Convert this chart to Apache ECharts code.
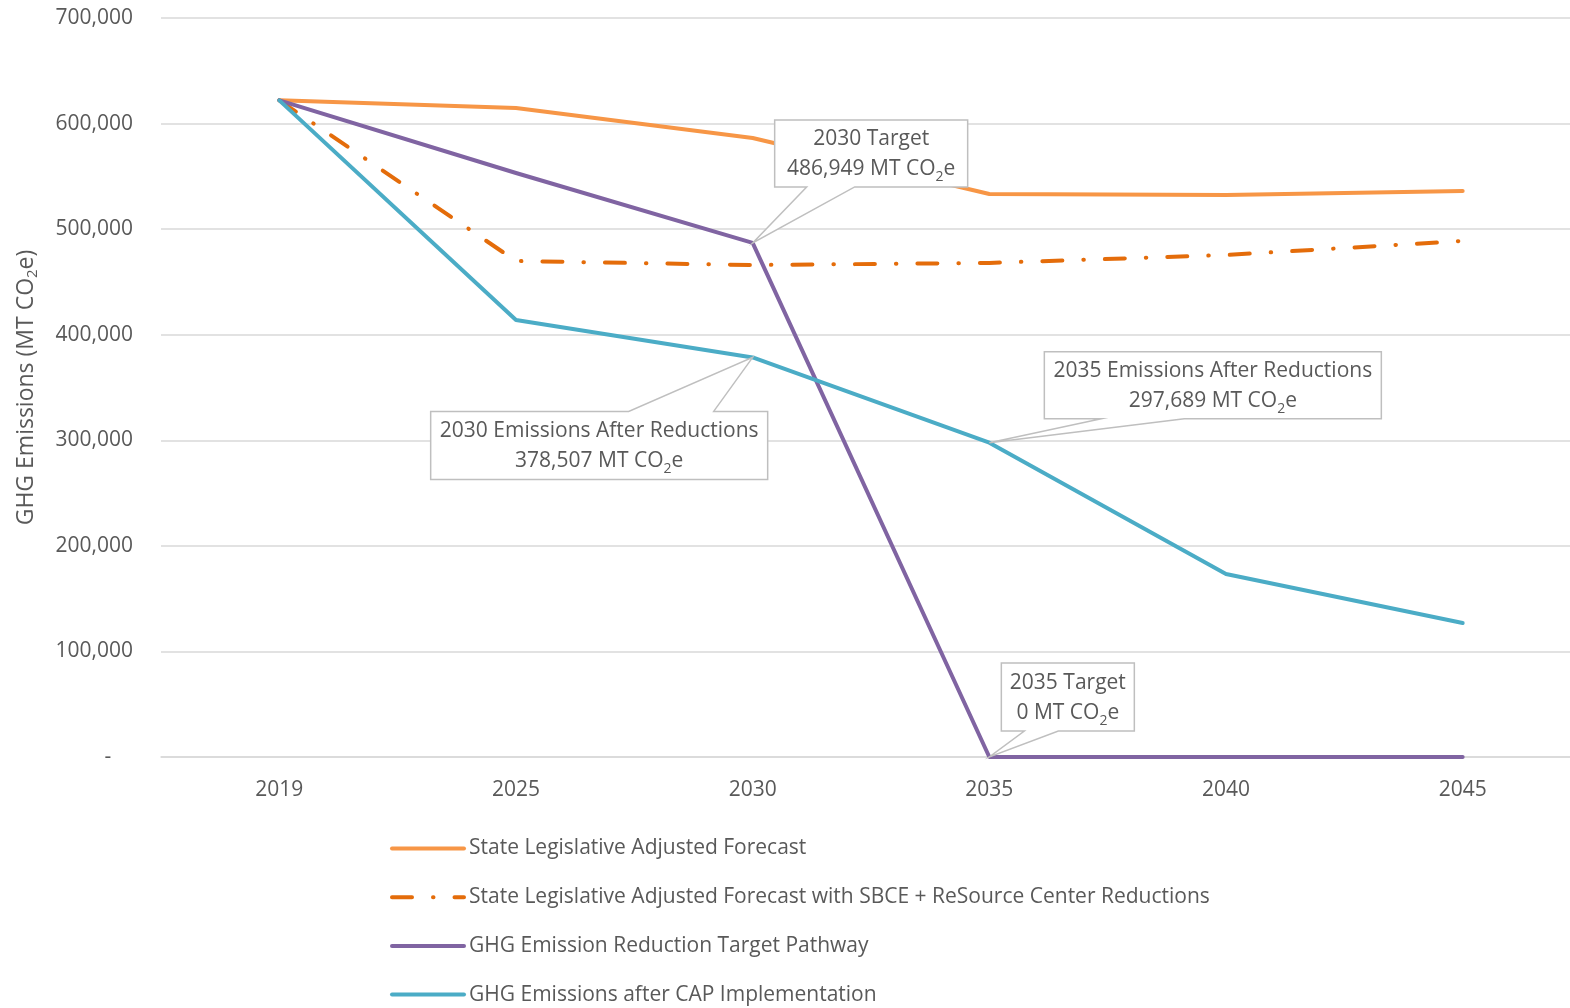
<!DOCTYPE html>
<html><head><meta charset="utf-8">
<script src="https://cdn.jsdelivr.net/npm/echarts@6/dist/echarts.min.js"></script>
<style>html,body{margin:0;padding:0;background:#fff}#c{width:1570px;height:1008px}</style>
</head><body><div id="c"></div>
<script>
const years = ['2019','2025','2030','2035','2040','2045'];
const yTicks = [0,100000,200000,300000,400000,500000,600000,700000];
const stateForecast = [622000, 614700, 586300, 533300, 532300, 536100];
const stateForecastSBCE = [622000, 469800, 466000, 468000, 475500, 488800];
const targetPathway = [622000, 553200, 486949, 0, 0, 0];
const capImplementation = [622000, 413900, 378507, 297689, 173300, 126900];
const seriesNames = [
  'State Legislative Adjusted Forecast',
  'State Legislative Adjusted Forecast with SBCE + ReSource Center Reductions',
  'GHG Emission Reduction Target Pathway',
  'GHG Emissions after CAP Implementation'
];
const calloutYears = ['2030','2030','2035','2035'];
const calloutValues = [486949, 378507, 297689, 0];
const calloutTitles = ['2030 Target','2030 Emissions After Reductions','2035 Emissions After Reductions','2035 Target'];
const calloutAmounts = ['486,949','378,507','297,689','0'];

const FONT = 'Open Sans';
const FS = 21;
const TXT = '#595959';
// callout geometry (pixel offsets relative to anchor point)
const calloutLayout = [
  {x:22, y:-123, w:193, h:67, side:'bottom', w1:54, w2:102},
  {x:-322, y:54, w:337, h:68, side:'top', w1:-124, w2:-39},
  {x:55, y:-91, w:337, h:67, side:'bottom', w1:112, w2:195},
  {x:12, y:-94, w:133, h:68, side:'bottom', w1:35, w2:69}
];

function renderCallout(params, api){
  const i = params.dataIndex;
  const p = api.coord([api.value(0), api.value(1)]);
  const L = calloutLayout[i];
  const ax = p[0], ay = p[1];
  const x0 = ax + L.x, y0 = ay + L.y, x1 = x0 + L.w, y1 = y0 + L.h;
  let pts;
  if (L.side === 'bottom') {
    pts = [[x0,y0],[x1,y0],[x1,y1],[ax+L.w2,y1],[ax,ay],[ax+L.w1,y1],[x0,y1]];
  } else {
    pts = [[x0,y0],[ax+L.w1,y0],[ax,ay],[ax+L.w2,y0],[x1,y0],[x1,y1],[x0,y1]];
  }
  return {
    type:'group',
    children:[
      {type:'polygon', shape:{points:pts}, style:{fill:'#fff', stroke:'#BFBFBF', lineWidth:1.5}},
      {type:'text', x:(x0+x1)/2, y:(y0+y1)/2 + 1, style:{
        text: '{t|' + calloutTitles[i] + '}\n{t|' + calloutAmounts[i] + ' MT CO}{s|2}{t|e}',
        align:'center', verticalAlign:'middle',
        rich:{
          t:{fontFamily:FONT, fontSize:FS, fill:TXT, lineHeight:30, verticalAlign:'middle'},
          s:{fontFamily:FONT, fontSize:14, fill:TXT, lineHeight:30, verticalAlign:'bottom', padding:[14,0,0,0]}
        }
      }}
    ]
  };
}

const chart = echarts.init(document.getElementById('c'), null, {renderer:'canvas'});
const lineBase = {type:'line', symbol:'none', smooth:false, z:3};
chart.setOption({
  animation:false,
  backgroundColor:'#fff',
  textStyle:{fontFamily:FONT},
  grid:{left:161, right:-11, top:18, bottom:251, containLabel:false, outerBoundsMode:'none'},
  legend:{
    orient:'vertical', left:390, top:838, padding:0,
    itemWidth:72, itemHeight:20, itemGap:27.7,
    itemStyle:{color:'rgba(0,0,0,0)', borderWidth:0, opacity:0},
    lineStyle:{width:4, cap:'round'},
    textStyle:{fontFamily:FONT, fontSize:FS, color:TXT, lineHeight:20, padding:[0,0,0,0]},
    data:seriesNames
  },
  xAxis:{
    type:'category', data:years, boundaryGap:true,
    axisTick:{show:false},
    axisLine:{show:true, lineStyle:{color:'#D9D9D9', width:1.5}},
    axisLabel:{fontFamily:FONT, fontSize:FS, color:TXT, margin:23}
  },
  yAxis:{
    type:'value', min:0, max:700000, interval:100000,
    name:'{a|GHG Emissions (MT CO}{s|2}{a|e)}',
    nameLocation:'middle', nameGap:121, nameRotate:90,
    nameTextStyle:{
      rich:{
        a:{fontFamily:FONT, fontSize:23, color:TXT, lineHeight:28, verticalAlign:'middle'},
        s:{fontFamily:FONT, fontSize:15, color:TXT, lineHeight:28, verticalAlign:'bottom', padding:[13,0,0,0]}
      }
    },
    axisLine:{show:false}, axisTick:{show:false},
    splitLine:{lineStyle:{color:'#D9D9D9', width:1.5}},
    axisLabel:{fontFamily:FONT, fontSize:FS, color:TXT, margin:28,
      formatter:function(v){ return v === 0 ? '-    ' : v.toLocaleString('en-US'); }}
  },
  series:[
    Object.assign({}, lineBase, {name:seriesNames[0], data:stateForecast,
      itemStyle:{color:'#F79646'}, lineStyle:{color:'#F79646', width:4, cap:'round', join:'round'}}),
    Object.assign({}, lineBase, {name:seriesNames[1], data:stateForecastSBCE,
      itemStyle:{color:'#E46C0A'}, lineStyle:{color:'#E46C0A', width:4, type:[20,21,0.5,21], cap:'round', join:'round'}}),
    Object.assign({}, lineBase, {name:seriesNames[2], data:targetPathway,
      itemStyle:{color:'#8064A2'}, lineStyle:{color:'#8064A2', width:4, cap:'round', join:'round'}}),
    Object.assign({}, lineBase, {name:seriesNames[3], data:capImplementation,
      itemStyle:{color:'#4BACC6'}, lineStyle:{color:'#4BACC6', width:4, cap:'round', join:'round'}}),
    {
      type:'custom', z:10, silent:true,
      renderItem:renderCallout,
      data: calloutYears.map((y,i)=>[years.indexOf(y), calloutValues[i]]),
      encode:{x:0, y:1}
    }
  ]
});
</script></body></html>
